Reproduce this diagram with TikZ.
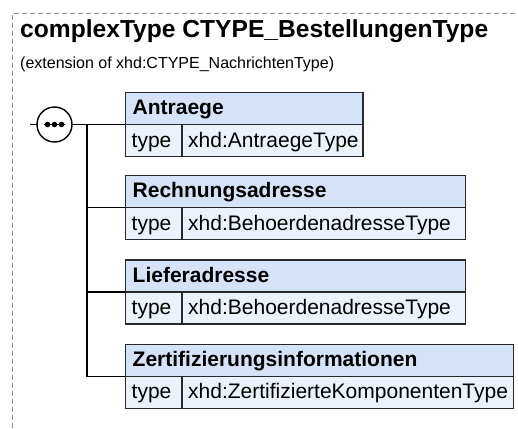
\documentclass[tikz,border=0pt]{standalone}
\usepackage{fontspec}
\setmainfont{Liberation Sans}
\definecolor{hdrfill}{RGB}{213,227,249}
\definecolor{typfill}{RGB}{235,242,252}
\definecolor{bordc}{RGB}{40,40,40}
\definecolor{dashc}{RGB}{140,140,140}
\tikzset{
  hdrbox/.style={draw=bordc, fill=hdrfill, line width=1.4pt, minimum height=32pt, inner sep=0pt, outer sep=0pt, anchor=north west},
  typbox/.style={draw=bordc, fill=typfill, line width=1.4pt, minimum height=32pt, inner sep=0pt, outer sep=0pt, anchor=north west},
  hdrtext/.style={anchor=base west, inner sep=0pt, font=\fontsize{21}{24}\selectfont\bfseries},
  typtext/.style={anchor=base west, inner sep=0pt, font=\fontsize{21}{24}\selectfont},
  conn/.style={line width=1.4pt, black},
}
\begin{document}
\begin{tikzpicture}[x=1pt,y=-1pt]
\useasboundingbox (0,0) rectangle (518,428);
\fill[white] (0,0) rectangle (518,428);
% dashed frame
\draw[dashc, line width=1pt, dash pattern=on 5pt off 3pt] (12.5,428) -- (12.5,13.5) -- (518,13.5);
% titles
\node[anchor=base west, inner sep=0pt, font=\fontsize{24.6}{28}\selectfont\bfseries] (title) at (20,37.5) {complexType CTYPE\_BestellungenType};
\node[anchor=base west, inner sep=0pt, font=\fontsize{16}{19}\selectfont] (sub) at (20,68) {(extension of xhd:CTYPE\_NachrichtenType)};
% boxes
\foreach \n/\t/\r/\name/\typ in {1/92.5/363/Antraege/xhd:AntraegeType,
  2/175.5/465.5/Rechnungsadresse/xhd:BehoerdenadresseType,
  3/260/465.5/Lieferadresse/xhd:BehoerdenadresseType,
  4/344.3/513.5/Zertifizierungsinformationen/xhd:ZertifizierteKomponentenType}{
  \pgfmathsetmacro{\w}{\r-125.3}
  \pgfmathsetmacro{\vw}{\r-182}
  \node[hdrbox, minimum width=\w pt] (h\n) at (125.3,\t) {};
  \node[typbox, minimum width=56.7pt] (k\n) at (125.3,\t+32) {};
  \node[typbox, minimum width=\vw pt] (v\n) at (182,\t+32) {};
  \node[hdrtext] (ht\n) at (132.5,\t+22) {\name};
  \node[typtext] (kt\n) at (131.5,\t+54.5) {type};
  \node[typtext] (vt\n) at (188,\t+54.5) {\typ};
}
% sequence compositor
\coordinate (in) at (30,124.5);
\node[circle, draw=black, fill=white, line width=1.4pt, minimum size=35pt, inner sep=0pt, outer sep=0pt] (seq) at (54.5,124.5) {};
\draw[conn] (in) -- (seq.west);
\draw[conn] (seq.east) -- (h1.south west);
\draw[conn] (44,124.5) -- (65,124.5);
\foreach \x in {47.5,54.5,61.5}{\fill (\x,124.5) circle (2.8pt);}
\coordinate (bus) at (87,124.5);
\draw[conn] (bus) |- (h2.south west);
\draw[conn] (bus) |- (h3.south west);
\draw[conn] (bus) |- (h4.south west);
\end{tikzpicture}
\end{document}
